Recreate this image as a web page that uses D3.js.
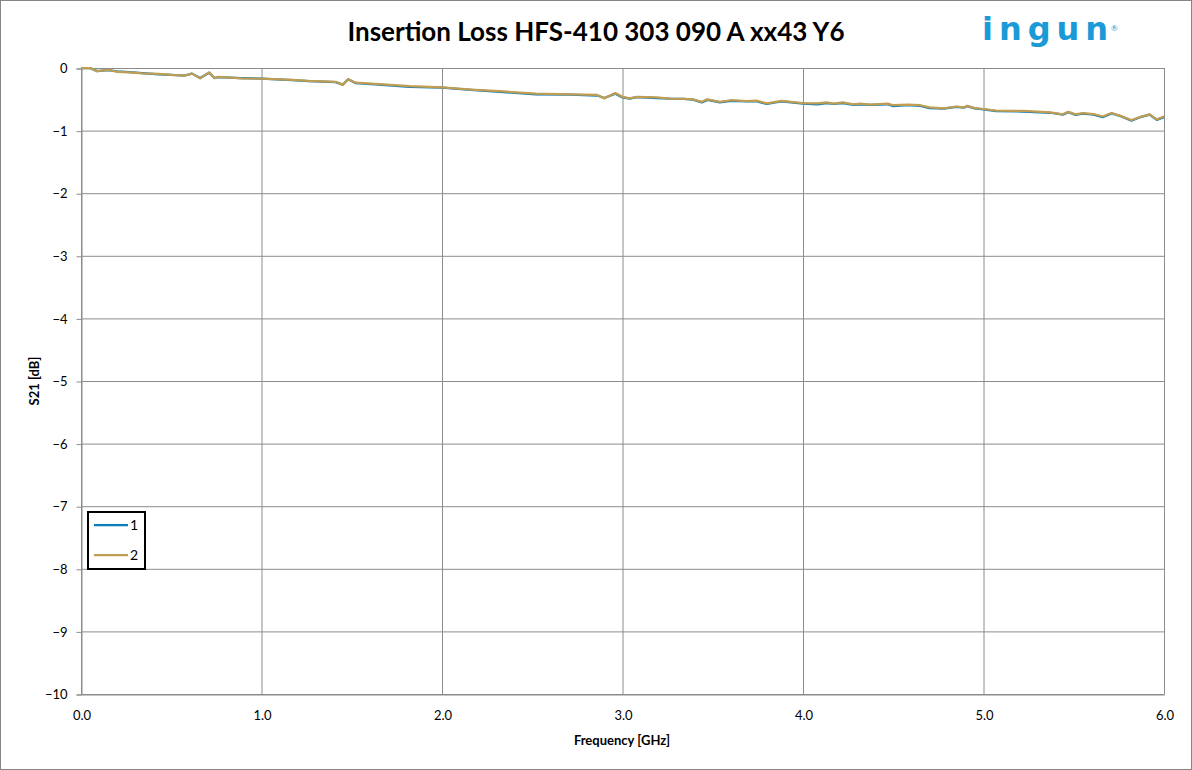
<!DOCTYPE html>
<html><head><meta charset="utf-8">
<script src="https://cdn.jsdelivr.net/npm/d3@7"></script>
<style>body{margin:0;background:#fff}svg{display:block}</style>
</head><body>
<script>
const freq = [0.00,0.05,0.09,0.15,0.20,0.27,0.34,0.43,0.50,0.575,0.615,0.66,0.71,0.74,0.76,0.89,1.0,1.17,1.26,1.41,1.45,1.48,1.52,1.63,1.82,2.0,2.16,2.34,2.52,2.71,2.86,2.90,2.96,3.0,3.04,3.08,3.19,3.26,3.34,3.39,3.44,3.47,3.54,3.60,3.69,3.74,3.80,3.88,4.0,4.08,4.13,4.17,4.22,4.28,4.32,4.37,4.47,4.50,4.58,4.65,4.70,4.78,4.85,4.89,4.91,4.95,5.0,5.07,5.22,5.37,5.44,5.47,5.51,5.55,5.61,5.66,5.71,5.76,5.82,5.86,5.92,5.96,6.0];
const series2 = [0,0,-0.05,-0.03,-0.06,-0.07,-0.085,-0.095,-0.11,-0.12,-0.09,-0.165,-0.07,-0.165,-0.14,-0.165,-0.17,-0.19,-0.205,-0.22,-0.27,-0.18,-0.235,-0.255,-0.29,-0.31,-0.345,-0.375,-0.41,-0.42,-0.43,-0.485,-0.40,-0.46,-0.485,-0.46,-0.47,-0.49,-0.495,-0.50,-0.54,-0.50,-0.54,-0.515,-0.53,-0.52,-0.565,-0.525,-0.56,-0.565,-0.55,-0.57,-0.55,-0.58,-0.57,-0.585,-0.57,-0.595,-0.585,-0.595,-0.63,-0.645,-0.615,-0.63,-0.605,-0.64,-0.655,-0.68,-0.685,-0.71,-0.74,-0.70,-0.74,-0.72,-0.735,-0.775,-0.72,-0.765,-0.835,-0.79,-0.74,-0.82,-0.775];
const series1 = [0,0,-0.05,-0.035,-0.055,-0.065,-0.08,-0.10,-0.11,-0.12,-0.09,-0.16,-0.075,-0.16,-0.145,-0.16,-0.17,-0.195,-0.21,-0.225,-0.265,-0.18,-0.24,-0.26,-0.30,-0.315,-0.35,-0.385,-0.42,-0.425,-0.44,-0.48,-0.41,-0.47,-0.49,-0.465,-0.48,-0.49,-0.495,-0.505,-0.55,-0.51,-0.55,-0.525,-0.535,-0.53,-0.575,-0.535,-0.57,-0.58,-0.56,-0.575,-0.56,-0.59,-0.58,-0.59,-0.58,-0.61,-0.595,-0.605,-0.64,-0.65,-0.62,-0.635,-0.61,-0.645,-0.66,-0.69,-0.695,-0.715,-0.745,-0.705,-0.75,-0.73,-0.745,-0.785,-0.725,-0.77,-0.84,-0.795,-0.745,-0.83,-0.785];
const xTicks = [0,1,2,3,4,5,6];
const yTicks = [0,-1,-2,-3,-4,-5,-6,-7,-8,-9,-10];
const seriesNames = ["1","2"];
const colors = ["#0a7dbd","#bf9d52"];

const W=1192,H=770;
const m={left:81,right:1164,top:68,bottom:694};
const svg=d3.select("body").append("svg").attr("width",W).attr("height",H);
svg.append("rect").attr("x",0.5).attr("y",0.5).attr("width",W-1).attr("height",H-1).attr("fill","#fff").attr("stroke","#868686");
const x=d3.scaleLinear().domain([0,6]).range([m.left,m.right]);
const y=d3.scaleLinear().domain([-10,0]).range([m.bottom,m.top]);
const font="Lato, 'Open Sans', sans-serif";

// grid
svg.append("g").selectAll("line.v").data(xTicks).join("line")
  .attr("x1",d=>x(d)+0.5).attr("x2",d=>x(d)+0.5).attr("y1",m.top).attr("y2",m.bottom)
  .attr("stroke","#8c8c8c").attr("stroke-width",1);
svg.append("g").selectAll("line.h").data(yTicks).join("line")
  .attr("x1",m.left).attr("x2",m.right).attr("y1",d=>y(d)+0.5).attr("y2",d=>y(d)+0.5)
  .attr("stroke","#8c8c8c").attr("stroke-width",1);

// axes
const ya=svg.append("g").attr("transform",`translate(${m.left+0.5},0.5)`)
  .call(d3.axisLeft(y).tickValues(yTicks).tickSize(5).tickFormat(d3.format("d")));
ya.select(".domain").attr("stroke","#8c8c8c");
ya.selectAll(".tick line").attr("stroke","#8c8c8c");
ya.selectAll("text").attr("font-family",font).attr("font-size",13).attr("fill","#000").attr("x",-14);
const xa=svg.append("g").attr("transform",`translate(0.5,${m.bottom+0.5})`)
  .call(d3.axisBottom(x).tickValues(xTicks).tickSize(0).tickFormat(d3.format(".1f")));
xa.select(".domain").attr("stroke","#8c8c8c");
xa.selectAll("text").attr("font-family",font).attr("font-size",13).attr("fill","#000").attr("y",16);

// lines
const data=[series1,series2];
const line=d3.line().x((d,i)=>x(freq[i])).y(d=>y(d));
data.forEach((s,k)=>{
  svg.append("path").datum(s).attr("d",line).attr("fill","none")
    .attr("stroke",colors[k]).attr("stroke-width",2.25).attr("stroke-linejoin","round");
});

// title
svg.append("text").attr("x",596).attr("y",41).attr("text-anchor","middle")
  .attr("font-family",font).attr("font-weight","bold").attr("font-size",26).attr("fill","#000")
  .text("Insertion Loss HFS-410 303 090 A xx43 Y6");
// axis titles
svg.append("text").attr("x",622).attr("y",745).attr("text-anchor","middle")
  .attr("font-family",font).attr("font-weight","bold").attr("font-size",13).text("Frequency [GHz]");
svg.append("text").attr("transform","translate(39,381) rotate(-90)").attr("text-anchor","middle")
  .attr("font-family",font).attr("font-weight","bold").attr("font-size",13).text("S21 [dB]");

// legend
const lg=svg.append("g");
lg.append("rect").attr("x",88).attr("y",512).attr("width",57).attr("height",57)
  .attr("fill","#fff").attr("stroke","#000").attr("stroke-width",2);
seriesNames.forEach((n,i)=>{
  const yy=525+i*30;
  lg.append("line").attr("x1",94).attr("x2",128).attr("y1",yy).attr("y2",yy).attr("stroke",colors[i]).attr("stroke-width",2.25);
  lg.append("text").attr("x",130).attr("y",yy+5).attr("font-family",font).attr("font-size",14).text(n);
});

// logo
svg.append("text").attr("x",982).attr("y",40).attr("font-family","'DejaVu Sans', sans-serif")
  .attr("font-weight","bold").attr("font-size",32).attr("textLength",126).attr("lengthAdjust","spacing")
  .attr("fill","#1a9ad7").text("ingun");
svg.append("text").attr("x",1111).attr("y",31).attr("font-family",font)
  .attr("font-size",8).attr("fill","#1a9ad7").text("®");
</script>
</body></html>
